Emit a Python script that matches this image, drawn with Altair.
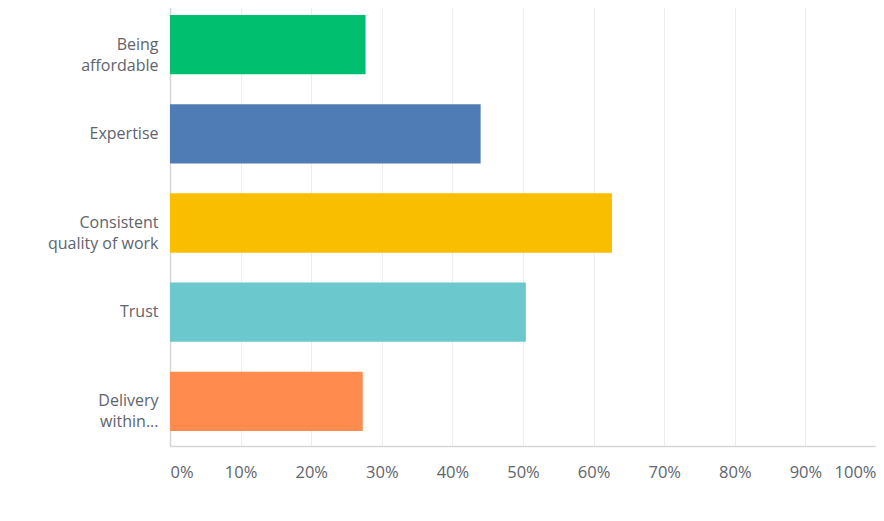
import altair as alt
import pandas as pd

categories = ["Being|affordable", "Expertise", "Consistent|quality of work", "Trust", "Delivery|within..."]
values = [0.277, 0.440, 0.626, 0.504, 0.273]
colors = ["#00BF6F", "#507CB6", "#F9BE00", "#6BC8CD", "#FF8B4F"]
ticks = [i / 10 for i in range(11)]

df = pd.DataFrame({"cat": categories, "val": values})

FONT = "Open Sans"
LABEL_COLOR = "#60646d"

chart = alt.Chart(df).mark_bar().encode(
    y=alt.Y("cat:N", sort=categories, title=None,
            scale=alt.Scale(paddingInner=0.335, paddingOuter=0.168),
            axis=alt.Axis(labelExpr="split(datum.label, '|')", labelLineHeight=21,
                          labelFontSize=16, labelColor=LABEL_COLOR, labelFont=FONT,
                          labelPadding=12, ticks=False, domainColor="#d6d6d6",
                          domainWidth=1.5, grid=False)),
    x=alt.X("val:Q", title=None,
            scale=alt.Scale(domain=[0, 1], nice=False),
            axis=alt.Axis(values=ticks, format=".0%", labelFlush=True, ticks=False,
                          labelFontSize=16.5, labelColor=LABEL_COLOR, labelFont=FONT,
                          labelPadding=18, gridColor="#ededed", gridWidth=1,
                          domainColor="#d6d6d6", domainWidth=1.5)),
    color=alt.Color("cat:N", sort=categories, legend=None,
                    scale=alt.Scale(domain=categories, range=colors)),
).properties(
    width=706, height=446,
    autosize=alt.AutoSizeParams(type="none"),
    padding={"left": 162, "top": -8, "right": 0, "bottom": 60},
).configure_view(stroke=None)

chart.save("out.html", embed_options={"renderer": "svg", "actions": False})
